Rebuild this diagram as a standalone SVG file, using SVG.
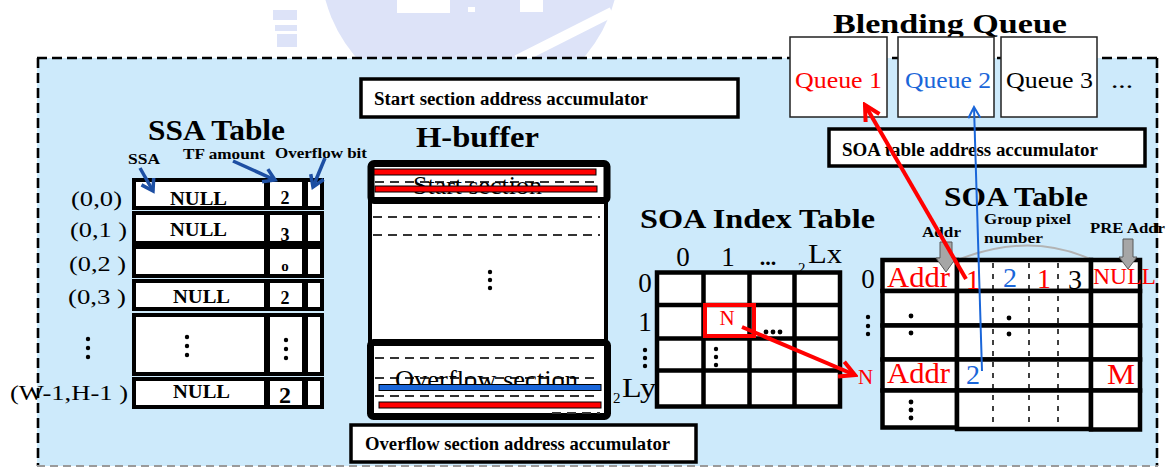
<svg xmlns="http://www.w3.org/2000/svg" width="1175" height="469" viewBox="0 0 1175 469">
  <style>
    .sf { font-family: "Liberation Serif", "Times New Roman", serif; }
    .bd { font-weight: bold; }
    .cell { fill: #ffffff; stroke: #000000; stroke-width: 4; }
    .cell2 { fill: #ffffff; stroke: #000000; stroke-width: 4.5; }
    .acc { fill: #ffffff; stroke: #000000; stroke-width: 3.5; }
    .queue { fill: #ffffff; stroke: #222222; stroke-width: 1.5; }
    .dash { stroke: #333333; stroke-width: 1.8; stroke-dasharray: 9 6; fill: none; }
    .vdash { stroke: #000000; stroke-width: 1.5; stroke-dasharray: 5 6; fill: none; }
    .dot { fill: #000000; }
    .red { fill: #ff0000; }
    .blue { fill: #1a66d9; }
    .garrow { fill: #a6a6a6; stroke: #595959; stroke-width: 1; }
    .wm { fill: #dde3f8; }
  </style>
  <defs>
    <marker id="ahRed" markerUnits="userSpaceOnUse" viewBox="0 0 22 22" refX="19" refY="11" markerWidth="22" markerHeight="22" orient="auto">
      <path d="M4,3 L19,11 L4,19" fill="none" stroke="#ff0000" stroke-width="4"/>
    </marker>
    <marker id="ahBlue" markerUnits="userSpaceOnUse" viewBox="0 0 20 20" refX="18" refY="10" markerWidth="20" markerHeight="20" orient="auto">
      <path d="M7,4 L18,10 L7,16" fill="none" stroke="#1a66d9" stroke-width="2"/>
    </marker>
    <marker id="ahNavy" markerUnits="userSpaceOnUse" viewBox="0 0 20 20" refX="17" refY="10" markerWidth="20" markerHeight="20" orient="auto">
      <path d="M6,3 L17,10 L6,17" fill="none" stroke="#1d4fa3" stroke-width="3.5"/>
    </marker>
  </defs>

  <!-- faint emblem behind the top edge -->
  <g id="emblem">
    <circle class="wm" cx="470" cy="-40" r="150"/>
    <rect class="wm" x="273" y="10" width="24" height="10"/>
    <rect class="wm" x="275" y="25" width="22" height="6"/>
    <rect class="wm" x="277" y="34" width="20" height="13"/>
    <rect x="397" y="0" width="53" height="13" fill="#ffffff"/>
    <rect x="468" y="7" width="7" height="5" fill="#ffffff"/>
    <rect x="520" y="0" width="23" height="12" fill="#ffffff"/>
    <path d="M612,12 L517,60" stroke="#ffffff" stroke-width="10"/>
  </g>

  <!-- processing unit background -->
  <g id="unit">
    <rect x="37" y="58" width="1121" height="408" fill="#cdeafb"/>
    <path d="M37,58 H1158" stroke="#000" stroke-width="2.6" stroke-dasharray="10 5"/>
    <path d="M38,58 V466" stroke="#000" stroke-width="2.6" stroke-dasharray="10 5"/>
    <path d="M1157,58 V466" stroke="#000" stroke-width="2.6" stroke-dasharray="10 5"/>
    <path d="M37,466 H1158" stroke="#9a9a9a" stroke-width="2" stroke-dasharray="8 5"/>
  </g>

  <!-- Blending queue -->
  <g id="blending-queue">
    <text class="sf bd" x="833" y="33" font-size="28" textLength="234" lengthAdjust="spacingAndGlyphs">Blending Queue</text>
    <rect class="queue" x="790" y="37" width="97" height="80"/>
    <rect class="queue" x="898" y="37" width="96" height="80"/>
    <rect class="queue" x="1001" y="37" width="96" height="80"/>
    <text class="sf red" x="795" y="88" font-size="24" textLength="87" lengthAdjust="spacingAndGlyphs">Queue 1</text>
    <text class="sf blue" x="905" y="88" font-size="24" textLength="86" lengthAdjust="spacingAndGlyphs">Queue 2</text>
    <text class="sf" x="1006" y="88" font-size="24" textLength="87" lengthAdjust="spacingAndGlyphs">Queue 3</text>
    <text class="sf" x="1111" y="88" font-size="24" textLength="22" lengthAdjust="spacingAndGlyphs">...</text>
  </g>

  <!-- address accumulators -->
  <g id="start-acc">
    <rect class="acc" x="361" y="79" width="377" height="38"/>
    <text class="sf bd" x="374" y="105" font-size="18" textLength="274" lengthAdjust="spacingAndGlyphs">Start section address accumulator</text>
  </g>
  <g id="soa-acc">
    <rect class="acc" x="829" y="129" width="316" height="37"/>
    <text class="sf bd" x="842" y="156" font-size="18" textLength="256" lengthAdjust="spacingAndGlyphs">SOA table address accumulator</text>
  </g>
  <g id="overflow-acc">
    <rect class="acc" x="351" y="425" width="345" height="37"/>
    <text class="sf bd" x="365" y="450" font-size="19" textLength="305" lengthAdjust="spacingAndGlyphs">Overflow section address accumulator</text>
  </g>

  <!-- SSA table -->
  <g id="ssa-table">
    <text class="sf bd" x="148" y="140" font-size="29" textLength="137" lengthAdjust="spacingAndGlyphs">SSA Table</text>
    <text class="sf bd" x="128" y="164" font-size="14" textLength="32" lengthAdjust="spacingAndGlyphs">SSA</text>
    <text class="sf bd" x="183" y="159" font-size="14" textLength="82" lengthAdjust="spacingAndGlyphs">TF amount</text>
    <text class="sf bd" x="275" y="158" font-size="14" textLength="92" lengthAdjust="spacingAndGlyphs">Overflow bit</text>

    <rect class="cell" x="134" y="180" width="132" height="28"/>
    <rect class="cell" x="268" y="180" width="36" height="28"/>
    <rect class="cell" x="306" y="180" width="16" height="28"/>
    <rect class="cell" x="134" y="213" width="132" height="30"/>
    <rect class="cell" x="268" y="213" width="36" height="30"/>
    <rect class="cell" x="306" y="213" width="16" height="30"/>
    <rect class="cell" x="134" y="247" width="132" height="29"/>
    <rect class="cell" x="268" y="247" width="36" height="29"/>
    <rect class="cell" x="306" y="247" width="16" height="29"/>
    <rect class="cell" x="134" y="281" width="132" height="28"/>
    <rect class="cell" x="268" y="281" width="36" height="28"/>
    <rect class="cell" x="306" y="281" width="16" height="28"/>
    <rect class="cell" x="134" y="315" width="132" height="59"/>
    <rect class="cell" x="268" y="315" width="36" height="59"/>
    <rect class="cell" x="306" y="315" width="16" height="59"/>
    <rect class="cell" x="134" y="379" width="132" height="28"/>
    <rect class="cell" x="268" y="379" width="36" height="28"/>
    <rect class="cell" x="306" y="379" width="16" height="28"/>

    <text class="sf bd" x="170" y="205" font-size="19" textLength="57" lengthAdjust="spacingAndGlyphs">NULL</text>
    <text class="sf bd" x="170" y="236" font-size="19" textLength="57" lengthAdjust="spacingAndGlyphs">NULL</text>
    <text class="sf bd" x="173" y="303" font-size="19" textLength="57" lengthAdjust="spacingAndGlyphs">NULL</text>
    <text class="sf bd" x="173" y="398" font-size="19" textLength="57" lengthAdjust="spacingAndGlyphs">NULL</text>

    <text class="sf bd" x="285" y="204" font-size="18" text-anchor="middle">2</text>
    <text class="sf bd" x="285" y="241" font-size="18" text-anchor="middle">3</text>
    <text class="sf bd" x="285" y="271" font-size="15" text-anchor="middle">o</text>
    <text class="sf bd" x="285" y="304" font-size="18" text-anchor="middle">2</text>
    <text class="sf bd" x="285" y="403" font-size="24" text-anchor="middle">2</text>

    <circle class="dot" cx="187" cy="337" r="2.2"/>
    <circle class="dot" cx="187" cy="346" r="2.2"/>
    <circle class="dot" cx="187" cy="355" r="2.2"/>
    <circle class="dot" cx="286" cy="340" r="2.2"/>
    <circle class="dot" cx="286" cy="349" r="2.2"/>
    <circle class="dot" cx="286" cy="358" r="2.2"/>

    <text class="sf" x="71" y="206" font-size="22" textLength="51" lengthAdjust="spacingAndGlyphs">(0,0)</text>
    <text class="sf" x="70" y="237" font-size="22" textLength="57" lengthAdjust="spacingAndGlyphs">(0,1 )</text>
    <text class="sf" x="69" y="271" font-size="22" textLength="57" lengthAdjust="spacingAndGlyphs">(0,2 )</text>
    <text class="sf" x="68" y="304" font-size="22" textLength="58" lengthAdjust="spacingAndGlyphs">(0,3 )</text>
    <text class="sf" x="10" y="400" font-size="22" textLength="118" lengthAdjust="spacingAndGlyphs">(W-1,H-1 )</text>
    <circle class="dot" cx="88" cy="339" r="2.2"/>
    <circle class="dot" cx="88" cy="348" r="2.2"/>
    <circle class="dot" cx="88" cy="357" r="2.2"/>
  </g>

  <!-- H-buffer -->
  <g id="h-buffer">
    <text class="sf bd" x="416" y="147" font-size="29" textLength="123" lengthAdjust="spacingAndGlyphs">H-buffer</text>
    <rect x="370" y="200" width="236" height="144" fill="#ffffff" stroke="#000" stroke-width="4"/>
    <path class="dash" d="M373,217 H600 M373,235 H600"/>
    <circle class="dot" cx="490" cy="272" r="2.2"/>
    <circle class="dot" cx="490" cy="280" r="2.2"/>
    <circle class="dot" cx="490" cy="288" r="2.2"/>

    <rect x="371" y="163.5" width="236" height="37" rx="3" fill="#ffffff" stroke="#000" stroke-width="7"/>
    <rect x="374" y="169" width="222" height="6" fill="#ff0000" stroke="#000" stroke-width="1"/>
    <path class="dash" d="M375,182 H600"/>
    <text class="sf" x="413" y="194" font-size="26" textLength="129" lengthAdjust="spacingAndGlyphs">Start section</text>
    <rect x="375" y="186" width="222" height="6" fill="#ff0000" stroke="#000" stroke-width="1"/>

    <rect x="370.5" y="342.5" width="237" height="74" rx="3" fill="#ffffff" stroke="#000" stroke-width="7"/>
    <path class="dash" d="M375,358 H600"/>
    <path class="dash" d="M375,378 H600"/>
    <text class="sf" x="395" y="388" font-size="26" textLength="183" lengthAdjust="spacingAndGlyphs">Overflow section</text>
    <rect x="379" y="384.5" width="222" height="6" fill="#1a66d9" stroke="#000" stroke-width="1"/>
    <path class="dash" d="M375,396 H600"/>
    <rect x="379" y="402" width="222" height="6" fill="#ff0000" stroke="#000" stroke-width="1"/>
    <path class="dash" d="M552,413 H600"/>
  </g>

  <!-- SOA index table -->
  <g id="soa-index-table">
    <text class="sf bd" x="640" y="228" font-size="27" textLength="235" lengthAdjust="spacingAndGlyphs">SOA Index Table</text>
    <text class="sf" x="683" y="266" font-size="27" text-anchor="middle">0</text>
    <text class="sf" x="728" y="266" font-size="27" text-anchor="middle">1</text>
    <text class="sf bd" x="768" y="265" font-size="22" text-anchor="middle">...</text>
    <text class="sf" x="798" y="273" font-size="15">2</text>
    <text class="sf" x="808" y="263" font-size="27" textLength="34" lengthAdjust="spacingAndGlyphs">Lx</text>

    <rect x="657" y="272.5" width="183" height="134" fill="#ffffff"/>
    <path d="M657,270.5 V408.5 M703.5,270.5 V408.5 M749.5,270.5 V408.5 M794.5,270.5 V408.5 M840,270.5 V408.5 M654.8,272.5 H842.2 M654.8,305 H842.2 M654.8,338.5 H842.2 M654.8,370.5 H842.2 M654.8,406.5 H842.2" stroke="#000" stroke-width="4.5" fill="none"/>

    <text class="sf" x="645" y="292" font-size="27" text-anchor="middle">0</text>
    <text class="sf" x="645" y="331" font-size="27" text-anchor="middle">1</text>
    <circle class="dot" cx="645" cy="350" r="2.2"/>
    <circle class="dot" cx="645" cy="358" r="2.2"/>
    <circle class="dot" cx="645" cy="366" r="2.2"/>
    <text class="sf" x="613" y="403" font-size="15">2</text>
    <text class="sf" x="622" y="397" font-size="27" textLength="34" lengthAdjust="spacingAndGlyphs">Ly</text>

    <rect x="705" y="305" width="49" height="31" fill="none" stroke="#ff0000" stroke-width="4"/>
    <text class="sf red" x="727" y="325" font-size="21" text-anchor="middle">N</text>
    <circle class="dot" cx="766" cy="332" r="2.4"/>
    <circle class="dot" cx="773" cy="332" r="2.4"/>
    <circle class="dot" cx="780" cy="332" r="2.4"/>
    <circle class="dot" cx="716" cy="349" r="2.2"/>
    <circle class="dot" cx="716" cy="357" r="2.2"/>
    <circle class="dot" cx="716" cy="365" r="2.2"/>
  </g>

  <!-- SOA table -->
  <g id="soa-table">
    <text class="sf bd" x="944" y="206" font-size="27" textLength="144" lengthAdjust="spacingAndGlyphs">SOA Table</text>
    <text class="sf bd" x="922" y="237" font-size="15" textLength="39" lengthAdjust="spacingAndGlyphs">Addr</text>
    <text class="sf bd" x="984" y="224" font-size="15" textLength="87" lengthAdjust="spacingAndGlyphs">Group pixel</text>
    <text class="sf bd" x="984" y="243" font-size="15" textLength="59" lengthAdjust="spacingAndGlyphs">number</text>
    <text class="sf bd" x="1090" y="233" font-size="15" textLength="75" lengthAdjust="spacingAndGlyphs">PRE Addr</text>
    <path d="M960,259 Q1030,232 1090,259" fill="none" stroke="#b3b3b3" stroke-width="2"/>

    <rect class="cell2" x="882.5" y="260" width="74.5" height="31"/>
    <rect class="cell2" x="957" y="260" width="134" height="31"/>
    <rect class="cell2" x="1091" y="260" width="49" height="31"/>
    <rect class="cell2" x="882.5" y="291" width="74.5" height="34.5"/>
    <rect class="cell2" x="957" y="291" width="134" height="34.5"/>
    <rect class="cell2" x="1091" y="291" width="49" height="34.5"/>
    <rect class="cell2" x="882.5" y="325.5" width="74.5" height="34"/>
    <rect class="cell2" x="957" y="325.5" width="134" height="34"/>
    <rect class="cell2" x="1091" y="325.5" width="49" height="34"/>
    <rect class="cell2" x="882.5" y="359.5" width="74.5" height="31"/>
    <rect class="cell2" x="957" y="359.5" width="134" height="31"/>
    <rect class="cell2" x="1091" y="359.5" width="49" height="31"/>
    <rect class="cell2" x="882.5" y="390.5" width="74.5" height="37"/>
    <rect class="cell2" x="957" y="390.5" width="134" height="38.5"/>
    <rect class="cell2" x="1091" y="390.5" width="49" height="39"/>
    <path class="vdash" d="M993,263 V428 M1029,263 V428 M1058,263 V428"/>

    <path class="garrow" d="M940,242 H952 V258 H956 L946,272 L936,258 H940 Z"/>
    <path class="garrow" d="M1123,239 H1133 V257 H1137 L1128,269 L1119,257 H1123 Z"/>

    <text class="sf" x="868" y="288" font-size="27" text-anchor="middle">0</text>
    <circle class="dot" cx="868" cy="317" r="2.2"/>
    <circle class="dot" cx="868" cy="326" r="2.2"/>
    <circle class="dot" cx="868" cy="334" r="2.2"/>

    <text class="sf red" x="887" y="287" font-size="30" textLength="63" lengthAdjust="spacingAndGlyphs">Addr</text>
    <text class="sf red" x="973" y="289" font-size="28" text-anchor="middle">1</text>
    <text class="sf blue" x="1010" y="287" font-size="28" text-anchor="middle">2</text>
    <text class="sf red" x="1044" y="288" font-size="28" text-anchor="middle">1</text>
    <text class="sf" x="1075" y="289" font-size="28" text-anchor="middle">3</text>
    <text class="sf red" x="1093" y="284" font-size="24" textLength="63" lengthAdjust="spacingAndGlyphs">NULL</text>

    <circle class="dot" cx="911" cy="316" r="2.4"/>
    <circle class="dot" cx="911" cy="333" r="2.4"/>
    <circle class="dot" cx="1009" cy="318" r="2.4"/>
    <circle class="dot" cx="1009" cy="334" r="2.4"/>

    <text class="sf red" x="858" y="384" font-size="21">N</text>
    <text class="sf red" x="887" y="383" font-size="30" textLength="63" lengthAdjust="spacingAndGlyphs">Addr</text>
    <text class="sf blue" x="973" y="384" font-size="28" text-anchor="middle">2</text>
    <text class="sf red" x="1107" y="384" font-size="30" textLength="28" lengthAdjust="spacingAndGlyphs">M</text>

    <circle class="dot" cx="911" cy="402" r="2.4"/>
    <circle class="dot" cx="911" cy="410" r="2.4"/>
    <circle class="dot" cx="911" cy="418" r="2.4"/>
  </g>

  <!-- connectors -->
  <g id="connectors" fill="none">
    <path d="M140,168 L153,191" stroke="#1d4fa3" stroke-width="3.5" marker-end="url(#ahNavy)"/>
    <path d="M233,161 L275,180" stroke="#1d4fa3" stroke-width="3.5" marker-end="url(#ahNavy)"/>
    <path d="M325,158 L313,187" stroke="#1d4fa3" stroke-width="3.5" marker-end="url(#ahNavy)"/>
    <path d="M742,327 L855,375" stroke="#ff0000" stroke-width="4" marker-end="url(#ahRed)"/>
    <path d="M966,279 L865,105" stroke="#ff0000" stroke-width="4" marker-end="url(#ahRed)"/>
    <path d="M982,371 L974,107" stroke="#1a66d9" stroke-width="2" marker-end="url(#ahBlue)"/>
  </g>
</svg>
